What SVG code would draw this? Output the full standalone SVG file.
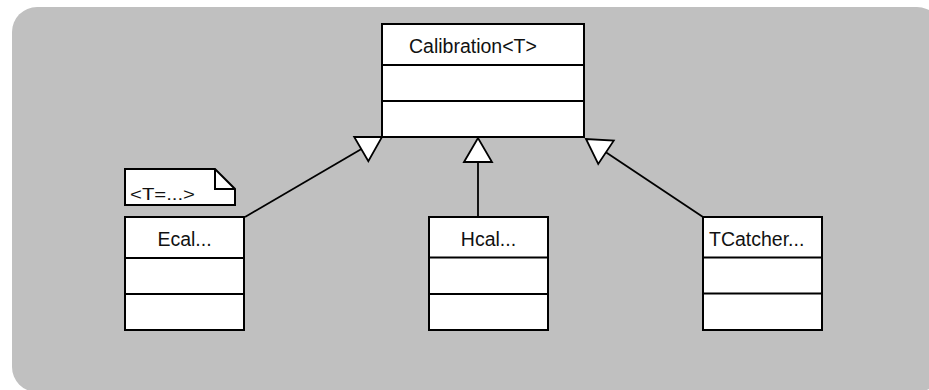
<svg xmlns="http://www.w3.org/2000/svg" width="929" height="390" viewBox="0 0 929 390">
  <style>
    .box { fill: #ffffff; stroke: #000000; stroke-width: 2; }
    .div { stroke: #000000; stroke-width: 2; }
    .lbl { font-family: "Liberation Sans", Arial, sans-serif; font-size: 19.5px; fill: #111111; }
    .conn { stroke: #000000; stroke-width: 1.8; fill: none; }
  </style>
  <defs>
    <marker id="tri" markerUnits="userSpaceOnUse" markerWidth="30" markerHeight="32" refX="24" refY="14" orient="auto" overflow="visible">
      <path d="M0,0 L24,14 L0,28 Z" fill="#ffffff" stroke="#000000" stroke-width="1.8" stroke-linejoin="miter"/>
    </marker>
  </defs>
  <rect x="12" y="7" width="930" height="385" rx="25" ry="25" fill="#c0c0c0"/>

  <g id="connectors">
    <line class="conn" x1="245" y1="217" x2="382" y2="137" marker-end="url(#tri)"/>
    <line class="conn" x1="478" y1="217" x2="478" y2="138" marker-end="url(#tri)"/>
    <line class="conn" x1="703" y1="217" x2="586" y2="139" marker-end="url(#tri)"/>
  </g>

  <g id="calibration">
    <rect class="box" x="382" y="24" width="202" height="113"/>
    <line class="div" x1="382" y1="65" x2="584" y2="65"/>
    <line class="div" x1="382" y1="101" x2="584" y2="101"/>
    <text class="lbl" x="409" y="53" font-size="20">Calibration&lt;T&gt;</text>
  </g>

  <g id="note">
    <path d="M125,169 L215,169 L235,189 L235,205 L125,205 Z" fill="#ffffff" stroke="#000000" stroke-width="2"/>
    <path d="M215,169 L215,189 L235,189" fill="none" stroke="#000000" stroke-width="2"/>
    <text x="130" y="200" font-family="Liberation Sans, Arial, sans-serif" font-size="16" fill="#111111" textLength="65" lengthAdjust="spacingAndGlyphs">&lt;T=...&gt;</text>
  </g>

  <g id="ecal">
    <rect class="box" x="125" y="217" width="119" height="113"/>
    <line class="div" x1="125" y1="258" x2="244" y2="258"/>
    <line class="div" x1="125" y1="294" x2="244" y2="294"/>
    <text class="lbl" x="184.5" y="246" text-anchor="middle">Ecal...</text>
  </g>

  <g id="hcal">
    <rect class="box" x="429" y="217" width="119" height="113"/>
    <line class="div" x1="429" y1="257.5" x2="548" y2="257.5"/>
    <line class="div" x1="429" y1="294" x2="548" y2="294"/>
    <text class="lbl" x="488.5" y="246" text-anchor="middle">Hcal...</text>
  </g>

  <g id="tcatcher">
    <rect class="box" x="703" y="217" width="119" height="113"/>
    <line class="div" x1="703" y1="257.5" x2="822" y2="257.5"/>
    <line class="div" x1="703" y1="293.5" x2="822" y2="293.5"/>
    <text class="lbl" x="709" y="246">TCatcher...</text>
  </g>
</svg>
